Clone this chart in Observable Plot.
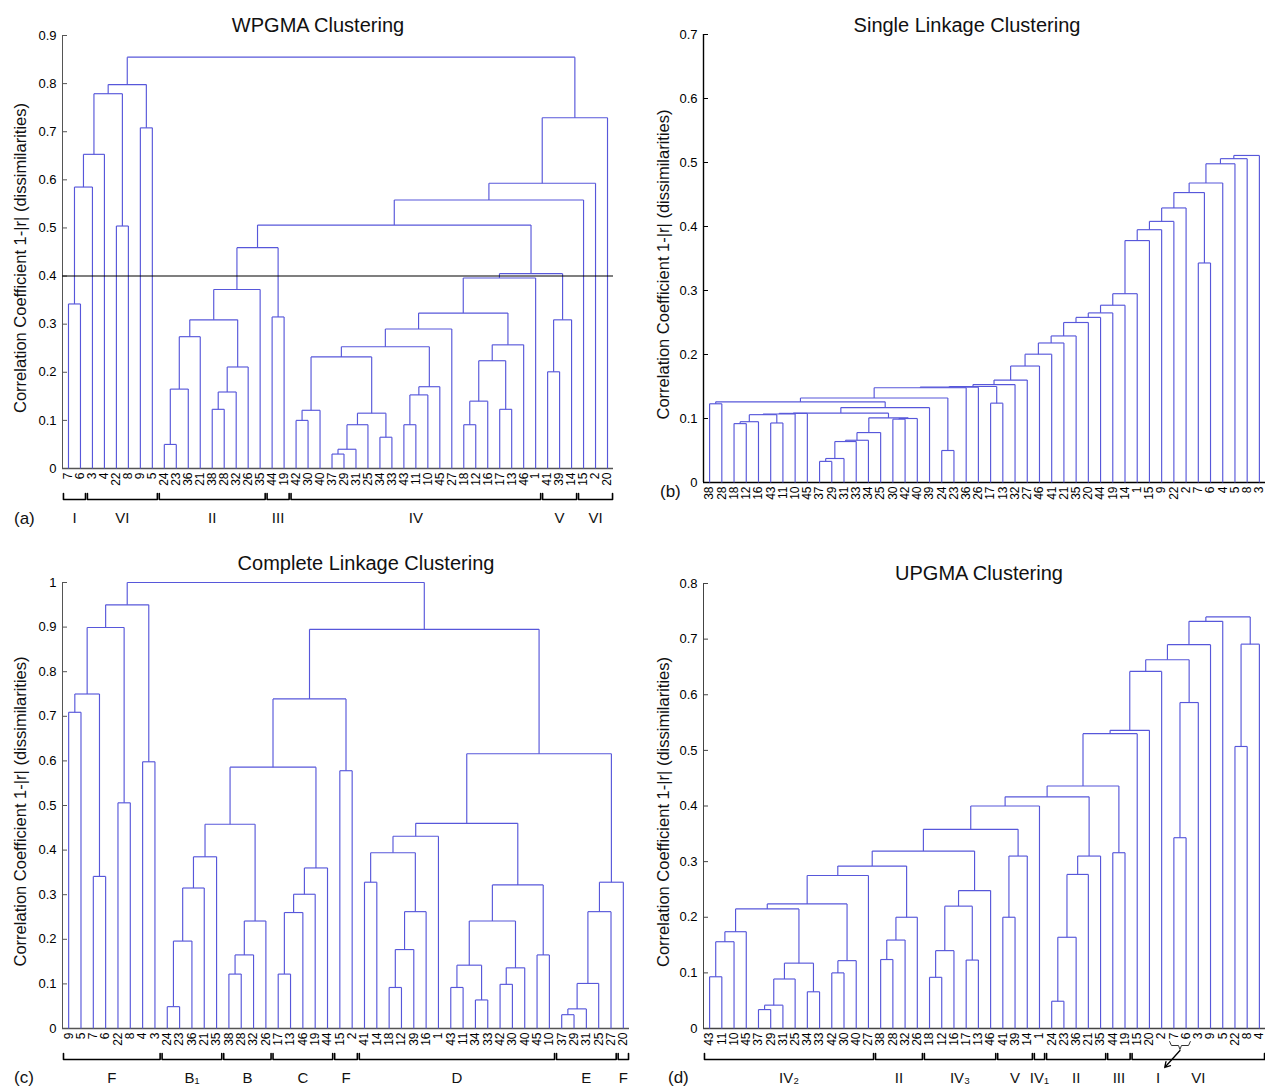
<!DOCTYPE html>
<html><head><meta charset="utf-8">
<script src="https://cdn.jsdelivr.net/npm/d3@7"></script>
<script src="https://cdn.jsdelivr.net/npm/@observablehq/plot@0.6"></script>
<style>
html,body{margin:0;padding:0;background:#fff;overflow:hidden;}
#wrap{position:relative;width:1265px;height:1088px;overflow:hidden;font-family:"Liberation Sans",Arial,Helvetica,sans-serif;color:#111;}
.panel{position:absolute;}
.title{position:absolute;transform:translate(-50%,-50%);font-size:20px;white-space:nowrap;}
.tag{position:absolute;transform:translate(0,-50%);font-size:17px;white-space:nowrap;}
</style></head><body><div id="wrap"></div>
<script>
// ---------- DATA ----------
const yLabelText = "Correlation Coefficient 1-|r| (dissimilarities)";

// (a) WPGMA
const leavesA = [7,6,3,4,22,8,9,5,24,23,36,21,38,28,32,26,35,44,19,42,30,40,37,29,31,25,34,33,43,11,10,45,27,18,12,16,17,13,46,1,41,39,14,15,2,20];
// merges: [child, child, height]; positive = leaf label, negative = earlier merge number
const mergesA = [
 [7,6,0.342],[-1,3,0.585],[-2,4,0.653],[22,8,0.504],[-3,-4,0.779],[9,5,0.708],[-5,-6,0.798],
 [24,23,0.05],[-8,36,0.165],[-9,21,0.274],[38,28,0.123],[-11,32,0.159],[-12,26,0.211],[-10,-13,0.309],[-14,35,0.372],[44,19,0.315],[-15,-16,0.459],
 [42,30,0.10],[-18,40,0.121],[37,29,0.030],[-20,31,0.040],[-21,25,0.091],[34,33,0.065],[-22,-23,0.115],[-19,-24,0.232],
 [43,11,0.091],[-26,10,0.153],[-27,45,0.170],[-25,-28,0.253],[-29,27,0.290],
 [18,12,0.091],[-31,16,0.140],[17,13,0.123],[-32,-33,0.224],[-34,46,0.257],[-30,-35,0.323],[-36,1,0.396],
 [41,39,0.201],[-38,14,0.309],[-37,-39,0.405],[-17,-40,0.506],[-41,15,0.558],[-42,2,0.593],[-43,20,0.729],[-7,-44,0.855]
];
const ticksA = [0,0.1,0.2,0.3,0.4,0.5,0.6,0.7,0.8,0.9];
const cutA = [0.4];
const groupNamesA = ["I","VI","II","III","IV","V","VI"];
const groupFirstA = [7,3,24,44,42,41,15];
const groupLastA  = [6,5,35,19,1,14,20];

// (b) Single linkage
const leavesB = [38,28,18,12,16,43,11,10,45,37,29,31,33,34,25,30,42,40,39,24,23,36,26,17,13,32,27,46,41,21,35,20,44,19,14,1,15,9,22,2,7,6,4,5,8,3];
const mergesB = [
 [18,12,0.092],[-1,16,0.095],[43,11,0.093],[-2,-3,0.106],[-4,10,0.107],[-5,45,0.108],
 [37,29,0.033],[-7,31,0.0375],[-8,33,0.064],[-9,34,0.066],[-10,25,0.078],
 [30,42,0.099],[-12,40,0.100],[-11,-13,0.101],[-6,-14,0.1085],[-15,39,0.117],
 [38,28,0.123],[-17,-16,0.126],[24,23,0.05],[-18,-19,0.132],[-20,36,0.148],[-21,26,0.149],
 [17,13,0.124],[-22,-23,0.150],[-24,32,0.153],[-25,27,0.160],[-26,46,0.182],[-27,41,0.2005],
 [-28,21,0.218],[-29,35,0.229],[-30,20,0.250],[-31,44,0.258],[-32,19,0.265],[-33,14,0.277],
 [-34,1,0.295],[-35,15,0.378],[-36,9,0.395],[-37,22,0.408],[-38,2,0.429],[7,6,0.343],
 [-39,-40,0.453],[-41,4,0.468],[-42,5,0.498],[-43,8,0.506],[-44,3,0.511]
];
const ticksB = [0,0.1,0.2,0.3,0.4,0.5,0.6,0.7];

// (c) Complete linkage
const leavesC = [9,5,7,6,22,8,4,3,24,23,36,21,35,38,28,32,26,17,13,46,19,44,15,2,41,14,18,12,39,16,1,43,11,34,33,42,30,40,45,10,37,29,31,25,27,20];
const mergesC = [
 [9,5,0.709],[7,6,0.341],[-1,-2,0.750],[22,8,0.506],[-3,-4,0.899],[4,3,0.598],[-5,-6,0.950],
 [24,23,0.049],[-8,36,0.196],[-9,21,0.315],[-10,35,0.385],
 [38,28,0.122],[-12,32,0.165],[-13,26,0.241],[-11,-14,0.458],
 [17,13,0.122],[-16,46,0.260],[-17,19,0.301],[-18,44,0.360],[-15,-19,0.586],
 [15,2,0.578],[-20,-21,0.739],
 [41,14,0.328],[18,12,0.092],[-24,39,0.177],[-25,16,0.262],[-23,-26,0.394],[-27,1,0.431],
 [43,11,0.092],[34,33,0.064],[-29,-30,0.142],[42,30,0.099],[-32,40,0.136],[-31,-33,0.241],
 [45,10,0.165],[-34,-35,0.322],[-28,-36,0.460],
 [37,29,0.031],[-38,31,0.044],[-39,25,0.101],[-40,27,0.262],[-41,20,0.328],
 [-37,-42,0.616],[-22,-43,0.895],[-7,-44,1.0]
];
const ticksC = [0,0.1,0.2,0.3,0.4,0.5,0.6,0.7,0.8,0.9,1];
const groupNamesC = ["F","B\u2081","B","C","F","D","E","F"];
const groupFirstC = [9,24,38,17,15,41,37,20];
const groupLastC  = [3,35,26,44,2,10,27,20];

// (d) UPGMA
const leavesD = [43,11,10,45,37,29,31,25,34,33,42,30,40,27,38,28,32,26,18,12,16,17,13,46,41,39,14,1,24,23,36,21,35,44,19,15,20,2,7,6,3,9,5,22,8,4];
const mergesD = [
 [43,11,0.093],[-1,10,0.156],[-2,45,0.174],[37,29,0.034],[-4,31,0.042],[-5,25,0.089],[34,33,0.066],[-6,-7,0.1175],
 [-3,-8,0.215],[42,30,0.10],[-10,40,0.122],[-9,-11,0.224],[-12,27,0.275],
 [38,28,0.124],[-14,32,0.159],[-15,26,0.20],[-13,-16,0.292],
 [18,12,0.092],[-18,16,0.140],[17,13,0.123],[-19,-20,0.22],[-21,46,0.248],[-17,-22,0.319],
 [41,39,0.20],[-24,14,0.31],[-23,-25,0.358],[-26,1,0.40],
 [24,23,0.049],[-28,36,0.164],[-29,21,0.277],[-30,35,0.310],[-27,-31,0.4165],
 [44,19,0.316],[-32,-33,0.436],[-34,15,0.530],[-35,20,0.536],[-36,2,0.642],
 [7,6,0.343],[-38,3,0.586],[-37,-39,0.663],[-40,9,0.69],[-41,5,0.732],
 [22,8,0.507],[-43,4,0.691],[-42,-44,0.74]
];
const ticksD = [0,0.1,0.2,0.3,0.4,0.5,0.6,0.7,0.8];
const groupNamesD = ["IV\u2082","II","IV\u2083","V","IV\u2081","II","III","VI"];
const groupFirstD = [43,38,18,41,1,24,44,15];
const groupLastD  = [27,26,46,14,1,35,19,4];
const braceD = {name: "I", first: 7, last: 6};

// ---------- RENDER ----------
const lineColor = "#5757da";
const font = "Liberation Sans, Arial, Helvetica, sans-serif";

function layout(leaves, merges) {
  const pos = new Map(leaves.map((l, i) => [l, i + 1]));
  const nodes = [];
  const segs = [];
  const get = c => c < 0 ? nodes[-c - 1] : {x: pos.get(c), h: 0};
  for (const [a, b, h] of merges) {
    const A = get(a), B = get(b);
    segs.push({x1: A.x, y1: A.h, x2: A.x, y2: h});
    segs.push({x1: B.x, y1: B.h, x2: B.x, y2: h});
    segs.push({x1: A.x, y1: h, x2: B.x, y2: h});
    nodes.push({x: (A.x + B.x) / 2, h});
  }
  return segs;
}

function panel(cfg) {
  const {leaves, merges, ticks, yMax, left, top, width, height, mL, mR, mT, mB, axisColor, axisWidth, labelDx} = cfg;
  const n = leaves.length;
  const plotH = height - mT - mB, plotW = width - mL - mR;
  const upx = yMax / plotH;       // y data units per pixel
  const xpx = n / plotW;          // x index units per pixel
  const idx = new Map(leaves.map((l, i) => [l, i + 1]));
  const segs = layout(leaves, merges);
  const leafData = leaves.map((l, i) => ({i: i + 1, label: String(l)}));
  const marks = [
    Plot.ruleX([0.5], {stroke: axisColor, strokeWidth: axisWidth}),
    Plot.ruleY([0], {stroke: axisColor, strokeWidth: axisWidth + 0.3}),
    Plot.ruleY(ticks, {y: d => d, x1: 0.5, x2: 0.5 + 5 * xpx, stroke: axisColor}),
    Plot.axisY(ticks, {tickSize: 0, tickPadding: 6, tickFormat: d => String(d), label: null}),
    Plot.link(segs, {x1: "x1", y1: "y1", x2: "x2", y2: "y2", stroke: lineColor, strokeWidth: 1.15}),
    Plot.text(leafData, {x: "i", y: 0, text: "label", rotate: -90, textAnchor: "end", dy: 4, fontSize: 12, fill: "#000"}),
    Plot.text([yLabelText], {frameAnchor: "left", textAnchor: "middle", rotate: -90, dx: labelDx, dy: 6, fontSize: 16.5, fill: "#111"})
  ];
  if (cfg.cut) marks.push(Plot.ruleY(cfg.cut, {stroke: "#000", strokeWidth: 1.1}));
  if (cfg.groupNames) {
    const groups = cfg.groupNames.map((name, k) => ({name, a: idx.get(cfg.groupFirst[k]), b: idx.get(cfg.groupLast[k])}));
    const yB = -31 * upx, yT = -25 * upx;
    const pts = groups.flatMap((g, k) => [
      {k, x: g.a - 0.42, y: yT}, {k, x: g.a - 0.42, y: yB},
      {k, x: g.b + 0.42, y: yB}, {k, x: g.b + 0.42, y: yT}
    ]);
    marks.push(Plot.line(pts, {x: "x", y: "y", z: "k", stroke: "#000", strokeWidth: 1.6}));
    marks.push(Plot.text(groups, {x: d => (d.a + d.b) / 2, y: 0, dy: 50, text: "name", fontSize: 15, fill: "#111"}));
  }
  if (cfg.brace) {
    const a = idx.get(cfg.brace.first), b = idx.get(cfg.brace.last), m = (a + b) / 2;
    const y = px => -px * upx;
    const br = [
      {x: a - 0.35, y: y(13)}, {x: a - 0.2, y: y(17)}, {x: m - 0.12, y: y(17)}, {x: m, y: y(21)},
      {x: m + 0.12, y: y(17)}, {x: b + 0.2, y: y(17)}, {x: b + 0.35, y: y(13)}
    ];
    marks.push(Plot.line(br, {x: "x", y: "y", stroke: "#333", strokeWidth: 1}));
    marks.push(Plot.arrow([cfg.brace], {x1: m, y1: y(22), x2: m - 1.25, y2: y(39), stroke: "#000", strokeWidth: 1.3, headLength: 7}));
    marks.push(Plot.text([cfg.brace], {x: m - 1.8, y: 0, dy: 50, text: "name", fontSize: 15, fill: "#111"}));
  }
  const svg = Plot.plot({
    width, height, marginLeft: mL, marginRight: mR, marginTop: mT, marginBottom: mB,
    x: {domain: [0.5, n + 0.5], axis: null},
    y: {domain: [0, yMax]},
    style: {fontFamily: font, fontSize: "13px", color: "#000", background: "transparent", maxWidth: "none", overflow: "visible"},
    marks
  });
  const div = document.createElement("div");
  div.className = "panel";
  Object.assign(div.style, {left: left + "px", top: top + "px", width: width + "px", height: height + "px"});
  div.appendChild(svg);
  wrap.appendChild(div);
}

const wrap = document.getElementById("wrap");

panel({leaves: leavesA, merges: mergesA, ticks: ticksA, yMax: 0.9, cut: cutA,
  groupNames: groupNamesA, groupFirst: groupFirstA, groupLast: groupLastA,
  left: 0, top: 0, width: 630, height: 540, mL: 62, mR: 17, mT: 35, mB: 72, axisColor: "#555", axisWidth: 1, labelDx: -42});
panel({leaves: leavesB, merges: mergesB, ticks: ticksB, yMax: 0.7,
  left: 640, top: 0, width: 625, height: 525, mL: 63, mR: 0, mT: 34, mB: 43, axisColor: "#000", axisWidth: 1.4, labelDx: -40});
panel({leaves: leavesC, merges: mergesC, ticks: ticksC, yMax: 1,
  groupNames: groupNamesC, groupFirst: groupFirstC, groupLast: groupLastC,
  left: 0, top: 545, width: 640, height: 543, mL: 62, mR: 11, mT: 37, mB: 60, axisColor: "#555", axisWidth: 1, labelDx: -42});
panel({leaves: leavesD, merges: mergesD, ticks: ticksD, yMax: 0.8,
  groupNames: groupNamesD, groupFirst: groupFirstD, groupLast: groupLastD, brace: braceD,
  left: 640, top: 545, width: 625, height: 543, mL: 63, mR: 0, mT: 38, mB: 60, axisColor: "#444", axisWidth: 1, labelDx: -40});

const titles = [
  {t: "WPGMA Clustering", x: 318, y: 25},
  {t: "Single Linkage Clustering", x: 967, y: 25},
  {t: "Complete Linkage Clustering", x: 366, y: 563},
  {t: "UPGMA Clustering", x: 979, y: 573}
];
for (const d of titles) {
  const el = document.createElement("div");
  el.className = "title"; el.textContent = d.t;
  el.style.left = d.x + "px"; el.style.top = d.y + "px";
  wrap.appendChild(el);
}
const tags = [
  {t: "(a)", x: 14, y: 519}, {t: "(b)", x: 660, y: 492},
  {t: "(c)", x: 14, y: 1078}, {t: "(d)", x: 668, y: 1078}
];
for (const d of tags) {
  const el = document.createElement("div");
  el.className = "tag"; el.textContent = d.t;
  el.style.left = d.x + "px"; el.style.top = d.y + "px";
  wrap.appendChild(el);
}
</script></body></html>
